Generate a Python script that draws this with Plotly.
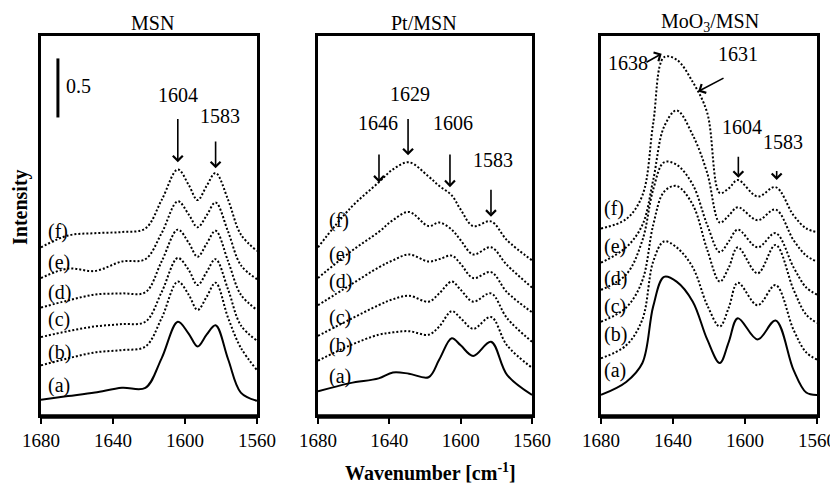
import plotly.graph_objects as go

# ---------------- data (intensity, arbitrary absorbance units) ----------------
# Panel 1: MSN
wn_msn = [1680, 1665, 1650, 1635, 1622, 1613, 1604, 1598, 1593, 1588, 1583, 1576, 1569, 1560]
msn_a = [0.13, 0.16, 0.19, 0.23, 0.23, 0.48, 0.79, 0.69, 0.58, 0.68, 0.76, 0.47, 0.19, 0.12]
msn_b = [0.42, 0.48, 0.53, 0.55, 0.58, 0.82, 1.13, 1.02, 0.89, 1.00, 1.12, 0.82, 0.57, 0.38]
msn_c = [0.66, 0.71, 0.75, 0.77, 0.79, 1.04, 1.33, 1.23, 1.10, 1.21, 1.32, 1.06, 0.76, 0.63]
msn_d = [0.91, 0.97, 1.02, 1.03, 1.04, 1.30, 1.57, 1.46, 1.34, 1.45, 1.56, 1.30, 1.02, 0.89]
msn_e = [1.16, 1.24, 1.22, 1.30, 1.32, 1.54, 1.81, 1.70, 1.59, 1.69, 1.80, 1.55, 1.27, 1.15]
msn_f = [1.42, 1.52, 1.54, 1.55, 1.58, 1.82, 2.08, 1.95, 1.82, 1.94, 2.05, 1.82, 1.53, 1.39]

# Panel 2: Pt/MSN
wn_pt = [1680, 1662, 1646, 1638, 1629, 1618, 1612, 1605, 1600, 1593, 1583, 1574, 1560]
pt_a = [0.20, 0.27, 0.31, 0.36, 0.35, 0.32, 0.47, 0.65, 0.59, 0.50, 0.62, 0.34, 0.17]
pt_b = [0.46, 0.59, 0.68, 0.70, 0.71, 0.68, 0.75, 0.88, 0.82, 0.73, 0.83, 0.59, 0.40]
pt_c = [0.67, 0.81, 0.93, 0.98, 1.01, 0.96, 1.03, 1.13, 1.06, 0.96, 1.03, 0.82, 0.62]
pt_d = [0.93, 1.10, 1.25, 1.31, 1.36, 1.30, 1.32, 1.35, 1.28, 1.16, 1.21, 1.04, 0.87]
pt_e = [1.16, 1.38, 1.55, 1.65, 1.72, 1.60, 1.63, 1.57, 1.48, 1.36, 1.42, 1.27, 1.08]
pt_f = [1.42, 1.75, 1.97, 2.08, 2.14, 2.02, 1.94, 1.86, 1.74, 1.60, 1.64, 1.48, 1.31]

# Panel 3: MoO3/MSN
wn_mo = [1680, 1666, 1657, 1651, 1645, 1638, 1629, 1621, 1614, 1609, 1604, 1593, 1583, 1573, 1566, 1560]
mo_a = [0.17, 0.28, 0.44, 0.92, 1.17, 1.13, 0.96, 0.64, 0.44, 0.62, 0.82, 0.64, 0.80, 0.38, 0.19, 0.17]
mo_b = [0.48, 0.59, 0.81, 1.30, 1.47, 1.42, 1.25, 0.93, 0.75, 0.91, 1.12, 0.93, 1.10, 0.72, 0.53, 0.47]
mo_c = [0.79, 0.91, 1.14, 1.61, 1.89, 1.94, 1.78, 1.40, 1.13, 1.25, 1.42, 1.20, 1.44, 1.06, 0.85, 0.78]
mo_d = [1.06, 1.19, 1.48, 1.91, 2.14, 2.12, 1.95, 1.61, 1.38, 1.47, 1.57, 1.42, 1.54, 1.25, 1.08, 1.02]
mo_e = [1.29, 1.42, 1.61, 1.99, 2.44, 2.58, 2.37, 2.05, 1.63, 1.69, 1.76, 1.65, 1.74, 1.48, 1.35, 1.30]
mo_f = [1.58, 1.66, 1.86, 2.47, 3.03, 3.01, 2.82, 2.56, 1.88, 1.92, 1.99, 1.85, 1.93, 1.69, 1.58, 1.55]

panel_titles = ["MSN", "Pt/MSN", "MoO<sub>3</sub>/MSN"]
curve_labels = ["(a)", "(b)", "(c)", "(d)", "(e)", "(f)"]
x_ticks = [1680, 1640, 1600, 1560]

# label heights for (a)-(f) per panel
label_y_msn = [0.25, 0.53, 0.81, 1.04, 1.29, 1.55]
label_y_pt = [0.33, 0.59, 0.83, 1.13, 1.36, 1.65]
label_y_mo = [0.38, 0.68, 0.92, 1.16, 1.43, 1.75]

# peak markers: (label, label_x, label_y, tail_x, tail_y, head_x, head_y)
peaks_msn = [("1604", 1604.0, 2.60, 1604.0, 2.52, 1604.0, 2.14),
             ("1583", 1580.6, 2.42, 1583.0, 2.33, 1583.0, 2.09)]
peaks_pt = [("1629", 1628.4, 2.61, 1629.5, 2.52, 1629.5, 2.20),
            ("1646", 1646.3, 2.36, 1645.8, 2.22, 1645.8, 1.97),
            ("1606", 1604.3, 2.36, 1606.0, 2.22, 1606.0, 1.93),
            ("1583", 1581.9, 2.05, 1583.0, 1.92, 1583.0, 1.68)]
peaks_mo = [("1638", 1664.8, 2.87, 1655.6, 2.98, 1646.3, 3.06),
            ("1631", 1603.7, 2.95, 1611.1, 2.86, 1626.0, 2.74),
            ("1604", 1601.8, 2.33, 1603.7, 2.20, 1603.7, 2.01),
            ("1583", 1579.1, 2.20, 1582.4, 2.08, 1582.4, 1.99)]

# ---------------- figure ----------------
FONT = "Liberation Serif, Times New Roman, serif"
OFF = 8                 # page body margin of the rendered html
FW, FH = 838 - OFF, 485 - OFF


def xp(px):
    return (px - OFF) / FW


def yp(py):
    return 1 - (py - OFF) / FH


fig = go.Figure()

panels = [
    (wn_msn, [msn_a, msn_b, msn_c, msn_d, msn_e, msn_f], label_y_msn, peaks_msn, 1677.0),
    (wn_pt, [pt_a, pt_b, pt_c, pt_d, pt_e, pt_f], label_y_pt, peaks_pt, 1675.0),
    (wn_mo, [mo_a, mo_b, mo_c, mo_d, mo_e, mo_f], label_y_mo, peaks_mo, 1679.5),
]

x_domains = [[xp(41), xp(257)], [xp(318), xp(532)], [xp(601), xp(817)]]
y_domain = [yp(415), yp(36)]

annotations = []
for i, (wn, curves, laby, peaks, labx) in enumerate(panels):
    xa = "x" if i == 0 else f"x{i+1}"
    ya = "y" if i == 0 else f"y{i+1}"
    for j, ys in enumerate(curves):
        fig.add_trace(go.Scatter(
            x=wn, y=ys, mode="lines", xaxis=xa, yaxis=ya, showlegend=False,
            line=dict(color="black", width=2,
                      dash="solid" if j == 0 else "2px,2px", shape="spline", smoothing=1.0),
            hoverinfo="skip"))
        annotations.append(dict(x=labx, y=laby[j], xref=xa, yref=ya, text=curve_labels[j],
                                showarrow=False, xanchor="left", yanchor="middle",
                                font=dict(family=FONT, size=20, color="black")))
    for (txt, lx, ly, tx, ty, hx, hy) in peaks:
        annotations.append(dict(x=lx, y=ly, xref=xa, yref=ya, text=txt, showarrow=False,
                                xanchor="center", yanchor="bottom",
                                font=dict(family=FONT, size=20, color="black")))
        annotations.append(dict(x=hx, y=hy, ax=tx, ay=ty, xref=xa, yref=ya, axref=xa, ayref=ya,
                                text="", showarrow=True, arrowhead=4, arrowsize=1.2,
                                arrowwidth=1.6, arrowcolor="black"))
    ax_common = dict(range=[1680, 1560], domain=x_domains[i], showgrid=False, zeroline=False,
                     showline=True, linecolor="black", linewidth=2.5, mirror=True,
                     ticks="outside", ticklen=6, tickwidth=2, tickcolor="black",
                     tickvals=x_ticks, ticktext=[str(v) for v in x_ticks],
                     tickfont=dict(family=FONT, size=19, color="black"),
                     anchor=ya, fixedrange=True, automargin=False)
    ay_common = dict(range=[0, 3.21], domain=y_domain, showgrid=False, zeroline=False,
                     showline=True, linecolor="black", linewidth=2.5, mirror=True,
                     ticks="", showticklabels=False, anchor=xa, fixedrange=True,
                     automargin=False)
    key = "" if i == 0 else str(i + 1)
    fig.update_layout(**{f"xaxis{key}": ax_common, f"yaxis{key}": ay_common})
    # heavier bottom frame line
    fig.add_shape(type="line", xref=f"{xa} domain", yref=f"{ya} domain",
                  x0=0, x1=1, y0=-0.004, y1=-0.004, line=dict(color="black", width=4.5))

# panel titles
title_x = [152, 424, 710]
for i, t in enumerate(panel_titles):
    annotations.append(dict(x=xp(title_x[i]), y=yp(23), xref="paper", yref="paper", text=t,
                            showarrow=False, xanchor="center", yanchor="middle",
                            font=dict(family=FONT, size=20, color="black")))

# scale bar 0.5
fig.add_shape(type="line", xref="x", yref="y", x0=1670.6, x1=1670.6, y0=2.52, y1=3.02,
              line=dict(color="black", width=3))
annotations.append(dict(x=1667.0, y=2.79, xref="x", yref="y", text="0.5", showarrow=False,
                        xanchor="left", yanchor="middle",
                        font=dict(family=FONT, size=20, color="black")))

# axis titles
annotations.append(dict(x=xp(20), y=yp(207), xref="paper", yref="paper",
                        text="<b>Intensity</b>", textangle=-90, showarrow=False,
                        xanchor="center", yanchor="middle",
                        font=dict(family=FONT, size=20, color="black")))
annotations.append(dict(x=xp(431), y=yp(472), xref="paper", yref="paper",
                        text="<b>Wavenumber [cm<sup>-1</sup>]</b>", showarrow=False,
                        xanchor="center", yanchor="middle",
                        font=dict(family=FONT, size=20, color="black")))

fig.update_layout(width=FW, height=FH, autosize=False,
                  margin=dict(l=0, r=0, t=0, b=0, pad=0, autoexpand=False),
                  paper_bgcolor="white", plot_bgcolor="white",
                  annotations=annotations, showlegend=False)

fig.write_html("out.html", config={"responsive": False, "displayModeBar": False})
